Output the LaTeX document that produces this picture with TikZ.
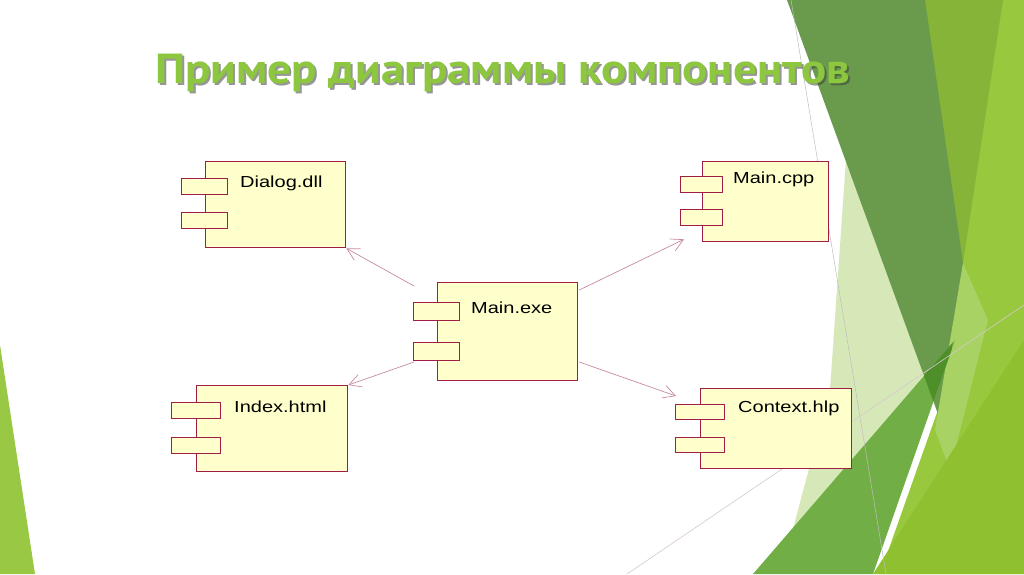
\documentclass[tikz,border=0pt]{standalone}
\usepackage{fontspec}
\setmainfont{Liberation Sans}
\newfontfamily\titlefont{PT Sans}
\usetikzlibrary{arrows.meta,calc}
\definecolor{compred}{RGB}{160,30,70}
\definecolor{compfill}{RGB}{255,255,204}
\definecolor{arrowc}{RGB}{200,140,160}
\definecolor{titlegreen}{RGB}{141,198,63}
\definecolor{leftgreen}{RGB}{152,200,68}
\definecolor{darkgreen}{RGB}{106,155,76}
\definecolor{olivegreen}{RGB}{134,180,56}
\definecolor{limegreen}{RGB}{151,200,62}
\definecolor{palegreen}{RGB}{214,232,184}
\definecolor{medgreen}{RGB}{114,174,70}
\definecolor{overlapgreen}{RGB}{78,143,42}
\definecolor{lowlime}{RGB}{142,192,48}
\definecolor{lightlime}{RGB}{168,210,100}
\definecolor{thingrey}{RGB}{190,190,190}
\definecolor{thinpink}{RGB}{215,200,205}
\begin{document}
\begin{tikzpicture}[x=1pt,y=-1pt,
  body/.style={draw=compred,fill=compfill,line width=1.3pt,anchor=north west,inner sep=0pt},
  tab/.style={draw=compred,fill=compfill,line width=1.3pt,anchor=north west,inner sep=0pt},
  lbl/.style={anchor=base west,inner sep=0pt,font=\fontsize{16}{18}\selectfont},
  dep/.style={draw=arrowc,line width=0.7pt,-{Straight Barb[length=12pt,width=13pt]}},
  titlestyle/.style={anchor=base west,inner sep=0pt,font=\titlefont\bfseries\fontsize{42}{46}\selectfont}]
\useasboundingbox (0,0) rectangle (1024,574);
\fill[white] (0,0) rectangle (1024,574);
% background facets
\fill[limegreen] (925,0) -- (1024,0) -- (1024,574) -- (880,574) -- (945,390) -- cycle;
\fill[olivegreen] (922,0) -- (1003,0) -- (963,263) -- cycle;
\fill[palegreen] (848,130) -- (930,380) -- (790,540) -- (830,390) -- cycle;
\fill[darkgreen] (787,0) -- (925,0) -- (963,263) -- (942,425) -- cycle;
\fill[lightlime] (963,263) -- (988,320) -- (950,470) -- (935,430) -- cycle;
\fill[medgreen] (753,574) -- (955,340) -- (873,574) -- cycle;
\begin{scope}
  \clip (787,0) -- (925,0) -- (963,263) -- (942,425) -- cycle;
  \fill[overlapgreen] (753,574) -- (955,340) -- (873,574) -- cycle;
\end{scope}
\fill[lowlime] (873,574) -- (1024,340) -- (1024,574) -- cycle;
\draw[thingrey,line width=0.5pt] (791,0) -- (886,574);
\draw[thinpink,line width=0.6pt] (627,574) -- (1024,305);
\fill[leftgreen] (0,345) -- (35,574) -- (0,574) -- cycle;
% title
\node[titlestyle,text=black!75,opacity=0.55] (titleshadow) at (157,85) {\scalebox{1.12}[1]{Пример диаграммы компонентов}};
\node[titlestyle,text=titlegreen] (title) at (155,83) {\scalebox{1.12}[1]{Пример диаграммы компонентов}};
% Dialog.dll
\node[body,minimum width=140pt,minimum height=86pt] (dlg) at (205,161) {};
\node[tab,minimum width=46pt,minimum height=16pt] (dlgta) at (181,178) {};
\node[tab,minimum width=46pt,minimum height=16pt] (dlgtb) at (181,212) {};
\node[lbl] (dlgl) at (240,187) {\scalebox{1.25}[1]{Dialog.dll}};
% Main.exe
\node[body,minimum width=140pt,minimum height=98pt] (exe) at (437,282) {};
\node[tab,minimum width=46pt,minimum height=18pt] (exeta) at (413,302) {};
\node[tab,minimum width=46pt,minimum height=18pt] (exetb) at (413,342) {};
\node[lbl] (exel) at (471,313) {\scalebox{1.25}[1]{Main.exe}};
% Main.cpp
\node[body,minimum width=126pt,minimum height=80pt] (cpp) at (702,161) {};
\node[tab,minimum width=42pt,minimum height=16pt] (cppta) at (680,176) {};
\node[tab,minimum width=42pt,minimum height=16pt] (cpptb) at (680,209) {};
\node[lbl] (cppl) at (733,183) {\scalebox{1.25}[1]{Main.cpp}};
% Index.html
\node[body,minimum width=151pt,minimum height=86pt] (idx) at (196,385) {};
\node[tab,minimum width=49pt,minimum height=16pt] (idxta) at (171,402) {};
\node[tab,minimum width=49pt,minimum height=16pt] (idxtb) at (171,437) {};
\node[lbl] (idxl) at (234,412) {\scalebox{1.25}[1]{Index.html}};
% Context.hlp
\node[body,minimum width=151pt,minimum height=80pt] (ctx) at (700,388) {};
\node[tab,minimum width=49pt,minimum height=15pt] (ctxta) at (675,404) {};
\node[tab,minimum width=49pt,minimum height=15pt] (ctxtb) at (675,437) {};
\node[lbl] (ctxl) at (738,412) {\scalebox{1.25}[1]{Context.hlp}};
% connectors
\coordinate (s1) at ($(exe.north west)+(-23,4)$);
\coordinate (s2) at ($(exe.north west)+(-23,80)$);
\coordinate (s3) at ($(exe.north east)+(1,8)$);
\coordinate (s4) at ($(exe.north east)+(1,80)$);
\coordinate (t3) at ($(cpp.south west)+(-18,-3)$);
\coordinate (t4) at ($(ctx.north west)+(-24,8)$);
\draw[dep] (s1) -- (dlg.south east);
\draw[dep] (s2) -- (idx.north east);
\draw[dep] (s3) -- (t3);
\draw[dep] (s4) -- (t4);
\end{tikzpicture}
\end{document}
